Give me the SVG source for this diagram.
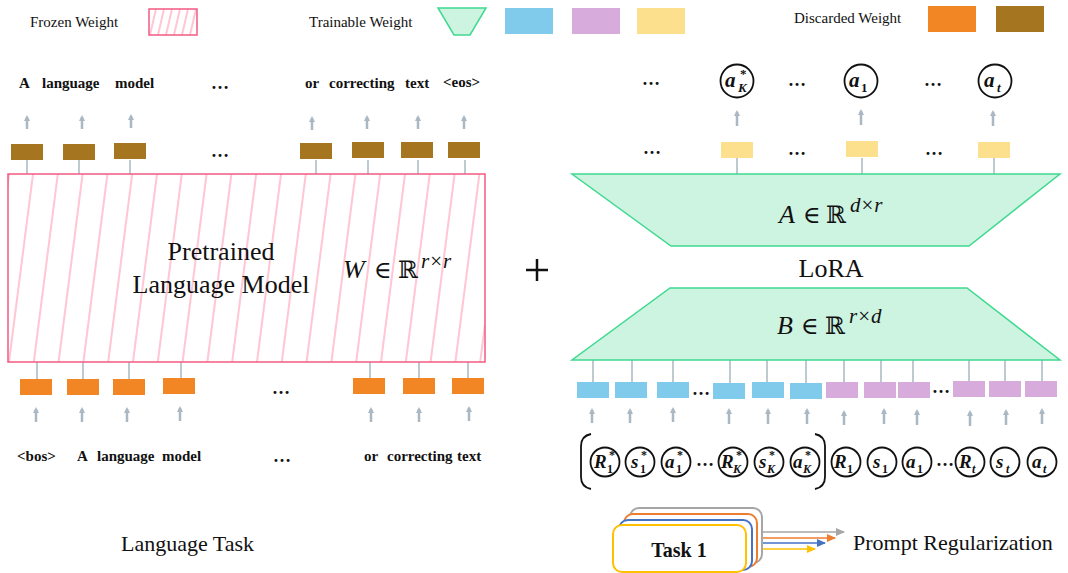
<svg xmlns="http://www.w3.org/2000/svg" width="1068" height="573" viewBox="0 0 1068 573">
<style>
.lg{font-family:"Liberation Serif",serif;font-size:15px;fill:#111}
.tok{font-family:"Liberation Serif",serif;font-size:15px;font-weight:bold;fill:#111}
.big{font-family:"Liberation Serif",serif;font-size:26px;fill:#111}
.dots{font-family:"Liberation Serif",serif;font-size:18px;font-weight:bold;fill:#111}
.mi{font-family:"Liberation Serif","DejaVu Serif",serif;font-size:26px;font-style:italic;fill:#111}
.mr{font-family:"DejaVu Serif","Liberation Serif",serif;font-size:24px;fill:#111}
.ms{font-family:"Liberation Serif","DejaVu Serif",serif;font-size:21px;letter-spacing:1px;fill:#111}
.cm{font-family:"Liberation Serif",serif;font-weight:bold;font-style:italic;font-size:19px;fill:#111}
.cs{font-family:"Liberation Serif",serif;font-weight:bold;font-size:12px;fill:#111}
.csi{font-family:"Liberation Serif",serif;font-weight:bold;font-style:italic;font-size:12px;fill:#111}
.tm{font-family:"Liberation Serif",serif;font-weight:bold;font-style:italic;font-size:21px;fill:#111}
.ts{font-family:"Liberation Serif",serif;font-weight:bold;font-size:13px;fill:#111}
.tsi{font-family:"Liberation Serif",serif;font-weight:bold;font-style:italic;font-size:13px;fill:#111}
.brown{fill:#a6751f}
.orange{fill:#f28524}
.blue{fill:#80cbec}
.purple{fill:#d7abdb}
.yellow{fill:#fde08d}
.trap{fill:#cdf3e1;stroke:#3fd98f;stroke-width:1.5}
.circ{fill:#fff;stroke:#111;stroke-width:1.8}
.conn{stroke:#a9b8c2;stroke-width:1.5;fill:none}
.arr{stroke:#a9b8c2;stroke-width:2.5;fill:none;marker-end:url(#ah)}
.hatch{stroke:#ffc6d4;stroke-width:2}
.task{fill:#fff;stroke-width:2}
</style>
<defs>
<marker id="ah" markerUnits="userSpaceOnUse" markerWidth="8" markerHeight="8" refX="4" refY="4" orient="auto"><path d="M0,1 L6,4 L0,7 z" fill="#a9b8c2"/></marker>
<marker id="ahg" markerUnits="userSpaceOnUse" markerWidth="10" markerHeight="8" refX="8" refY="4" orient="auto"><path d="M0,0 L9,4 L0,8 z" fill="#a6a6a6"/></marker>
<marker id="aho" markerUnits="userSpaceOnUse" markerWidth="10" markerHeight="8" refX="8" refY="4" orient="auto"><path d="M0,0 L9,4 L0,8 z" fill="#ed7d31"/></marker>
<marker id="ahb" markerUnits="userSpaceOnUse" markerWidth="10" markerHeight="8" refX="8" refY="4" orient="auto"><path d="M0,0 L9,4 L0,8 z" fill="#4472c4"/></marker>
<marker id="ahy" markerUnits="userSpaceOnUse" markerWidth="10" markerHeight="8" refX="8" refY="4" orient="auto"><path d="M0,0 L9,4 L0,8 z" fill="#ffc000"/></marker>
<clipPath id="clipBig"><rect x="8" y="174" width="477" height="188"/></clipPath>
<clipPath id="clipLeg"><rect x="149" y="9" width="48" height="26"/></clipPath>
</defs>

<!-- Legend -->
<g id="legend">
<text class="lg" x="30" y="27">Frozen Weight</text>
<g clip-path="url(#clipLeg)">
<line class="hatch" x1="150" y1="35" x2="156" y2="9"/>
<line class="hatch" x1="158" y1="35" x2="164" y2="9"/>
<line class="hatch" x1="166" y1="35" x2="172" y2="9"/>
<line class="hatch" x1="174" y1="35" x2="180" y2="9"/>
<line class="hatch" x1="182" y1="35" x2="188" y2="9"/>
<line class="hatch" x1="190" y1="35" x2="196" y2="9"/>
</g>
<rect x="149" y="9" width="48" height="26" fill="none" stroke="#f45a82" stroke-width="1.5"/>
<text class="lg" x="309" y="27">Trainable Weight</text>
<polygon class="trap" points="438,8 486,8 470,35 454,35"/>
<rect class="blue" x="505" y="8" width="48" height="26"/>
<rect class="purple" x="572" y="8" width="48" height="26"/>
<rect class="yellow" x="637" y="8" width="48" height="26"/>
<text class="lg" x="794" y="23">Discarded Weight</text>
<rect class="orange" x="928" y="6" width="48" height="26"/>
<rect class="brown" x="996" y="6" width="48" height="26"/>
</g>

<!-- Connectors -->
<g id="connectors">
<line class="conn" x1="27" y1="160" x2="27" y2="174"/>
<line class="conn" x1="79" y1="160" x2="79" y2="174"/>
<line class="conn" x1="130" y1="160" x2="130" y2="174"/>
<line class="conn" x1="316" y1="160" x2="316" y2="174"/>
<line class="conn" x1="368" y1="160" x2="368" y2="174"/>
<line class="conn" x1="418" y1="160" x2="418" y2="174"/>
<line class="conn" x1="465" y1="160" x2="465" y2="174"/>
<line class="arr" x1="27" y1="129" x2="27" y2="117"/>
<line class="arr" x1="82" y1="129" x2="82" y2="117"/>
<line class="arr" x1="131" y1="128" x2="131" y2="116"/>
<line class="arr" x1="312" y1="130" x2="312" y2="118"/>
<line class="arr" x1="367" y1="129" x2="367" y2="117"/>
<line class="arr" x1="418" y1="129" x2="418" y2="117"/>
<line class="arr" x1="464" y1="129" x2="464" y2="117"/>
<line class="conn" x1="37" y1="362" x2="37" y2="379"/>
<line class="conn" x1="83" y1="362" x2="83" y2="379"/>
<line class="conn" x1="129" y1="362" x2="129" y2="379"/>
<line class="conn" x1="181" y1="362" x2="181" y2="378"/>
<line class="conn" x1="370" y1="362" x2="370" y2="378"/>
<line class="conn" x1="419" y1="362" x2="419" y2="378"/>
<line class="conn" x1="468" y1="362" x2="468" y2="378"/>
<line class="arr" x1="36" y1="422" x2="36" y2="409"/>
<line class="arr" x1="82" y1="422" x2="82" y2="409"/>
<line class="arr" x1="127" y1="422" x2="127" y2="409"/>
<line class="arr" x1="180" y1="421" x2="180" y2="408"/>
<line class="arr" x1="371" y1="422" x2="371" y2="409"/>
<line class="arr" x1="419" y1="422" x2="419" y2="409"/>
<line class="arr" x1="469" y1="421" x2="469" y2="408"/>
<line class="conn" x1="737" y1="158" x2="737" y2="174"/>
<line class="conn" x1="862" y1="158" x2="862" y2="174"/>
<line class="conn" x1="994" y1="158" x2="994" y2="174"/>
<line class="arr" x1="737" y1="126" x2="737" y2="112"/>
<line class="arr" x1="861" y1="125" x2="861" y2="111"/>
<line class="arr" x1="993" y1="126" x2="993" y2="112"/>
<line class="conn" x1="593" y1="360" x2="593" y2="382"/>
<line class="conn" x1="632" y1="360" x2="632" y2="382"/>
<line class="conn" x1="673" y1="360" x2="673" y2="382"/>
<line class="conn" x1="730" y1="360" x2="730" y2="383"/>
<line class="conn" x1="767" y1="360" x2="767" y2="382"/>
<line class="conn" x1="806" y1="360" x2="806" y2="383"/>
<line class="conn" x1="844" y1="360" x2="844" y2="382"/>
<line class="conn" x1="881" y1="360" x2="881" y2="382"/>
<line class="conn" x1="913" y1="360" x2="913" y2="382"/>
<line class="conn" x1="969" y1="360" x2="969" y2="381"/>
<line class="conn" x1="1005" y1="360" x2="1005" y2="381"/>
<line class="conn" x1="1042" y1="360" x2="1042" y2="381"/>
<line class="arr" x1="592" y1="423" x2="592" y2="410"/>
<line class="arr" x1="630" y1="423" x2="630" y2="410"/>
<line class="arr" x1="673" y1="422" x2="673" y2="409"/>
<line class="arr" x1="729" y1="424" x2="729" y2="410"/>
<line class="arr" x1="768" y1="424" x2="768" y2="410"/>
<line class="arr" x1="807" y1="424" x2="807" y2="410"/>
<line class="arr" x1="844" y1="425" x2="844" y2="412"/>
<line class="arr" x1="884" y1="424" x2="884" y2="410"/>
<line class="arr" x1="917" y1="425" x2="917" y2="411"/>
<line class="arr" x1="970" y1="426" x2="970" y2="412"/>
<line class="arr" x1="1006" y1="425" x2="1006" y2="411"/>
<line class="arr" x1="1042" y1="424" x2="1042" y2="410"/>
<line x1="762" y1="532" x2="844" y2="532" stroke="#a6a6a6" stroke-width="1.3" marker-end="url(#ahg)"/>
<line x1="757" y1="538" x2="835" y2="538" stroke="#ed7d31" stroke-width="1.3" marker-end="url(#aho)"/>
<line x1="752" y1="543" x2="825" y2="543" stroke="#4472c4" stroke-width="1.3" marker-end="url(#ahb)"/>
<line x1="746" y1="549" x2="815" y2="549" stroke="#ffc000" stroke-width="1.3" marker-end="url(#ahy)"/>
</g>

<g id="out-tokens">
<text class="tok" x="19" y="88">A</text>
<text class="tok" x="42" y="88">language</text>
<text class="tok" x="115" y="88">model</text>
<text class="dots" x="211" y="89">…</text>
<text class="tok" x="305" y="88">or</text>
<text class="tok" x="329" y="88">correcting</text>
<text class="tok" x="405" y="88">text</text>
<text class="tok" x="443" y="87">&lt;eos&gt;</text>
</g>
<g id="discarded-top">
<rect class="brown" x="11" y="144" width="32" height="16"/>
<rect class="brown" x="63" y="144" width="32" height="16"/>
<rect class="brown" x="114" y="143" width="32" height="16"/>
<text class="dots" x="211" y="157">…</text>
<rect class="brown" x="300" y="143" width="32" height="16"/>
<rect class="brown" x="352" y="142" width="32" height="16"/>
<rect class="brown" x="401" y="142" width="32" height="16"/>
<rect class="brown" x="448" y="142" width="32" height="16"/>
</g>

<g id="pretrained">
<g clip-path="url(#clipBig)">
<line class="hatch" x1="-15" y1="362" x2="9" y2="174"/>
<line class="hatch" x1="9" y1="362" x2="33" y2="174"/>
<line class="hatch" x1="33.8" y1="362" x2="57.8" y2="174"/>
<line class="hatch" x1="58.6" y1="362" x2="82.6" y2="174"/>
<line class="hatch" x1="83.4" y1="362" x2="107.4" y2="174"/>
<line class="hatch" x1="108.2" y1="362" x2="132.2" y2="174"/>
<line class="hatch" x1="133" y1="362" x2="157" y2="174"/>
<line class="hatch" x1="157.8" y1="362" x2="181.8" y2="174"/>
<line class="hatch" x1="182.6" y1="362" x2="206.6" y2="174"/>
<line class="hatch" x1="207.4" y1="362" x2="231.4" y2="174"/>
<line class="hatch" x1="232.2" y1="362" x2="256.2" y2="174"/>
<line class="hatch" x1="257" y1="362" x2="281" y2="174"/>
<line class="hatch" x1="281.8" y1="362" x2="305.8" y2="174"/>
<line class="hatch" x1="306.6" y1="362" x2="330.6" y2="174"/>
<line class="hatch" x1="331.4" y1="362" x2="355.4" y2="174"/>
<line class="hatch" x1="356.2" y1="362" x2="380.2" y2="174"/>
<line class="hatch" x1="381" y1="362" x2="405" y2="174"/>
<line class="hatch" x1="405.8" y1="362" x2="429.8" y2="174"/>
<line class="hatch" x1="430.6" y1="362" x2="454.6" y2="174"/>
<line class="hatch" x1="455.4" y1="362" x2="479.4" y2="174"/>
<line class="hatch" x1="480.2" y1="362" x2="504.2" y2="174"/>
</g>
<rect x="8" y="174" width="477" height="188" fill="none" stroke="#f45a82" stroke-width="1.5"/>
<text class="big" x="221" y="260" text-anchor="middle">Pretrained</text>
<text class="big" x="221" y="293" text-anchor="middle">Language Model</text>
<text class="mi" x="343" y="278">W</text>
<text class="mr" x="374" y="278">∈</text>
<text class="mr" x="398" y="278">ℝ</text>
<text class="ms" x="421" y="268"><tspan font-style="italic">r</tspan>×<tspan font-style="italic">r</tspan></text>
</g>

<g id="discarded-bottom">
<rect class="orange" x="20" y="379" width="32" height="16"/>
<rect class="orange" x="67" y="379" width="32" height="16"/>
<rect class="orange" x="113" y="379" width="32" height="16"/>
<rect class="orange" x="163" y="378" width="32" height="16"/>
<text class="dots" x="272" y="394">…</text>
<rect class="orange" x="353" y="378" width="32" height="16"/>
<rect class="orange" x="403" y="378" width="32" height="16"/>
<rect class="orange" x="452" y="378" width="32" height="16"/>
</g>
<g id="in-tokens">
<text class="tok" x="17" y="461">&lt;bos&gt;</text>
<text class="tok" x="77" y="461">A</text>
<text class="tok" x="97" y="461">language</text>
<text class="tok" x="162" y="461">model</text>
<text class="dots" x="273" y="462">…</text>
<text class="tok" x="364" y="461">or</text>
<text class="tok" x="387" y="461">correcting</text>
<text class="tok" x="457" y="461">text</text>
</g>
<g id="language-task">
<text x="121" y="551" style="font-family:'Liberation Serif',serif;font-size:22px;fill:#111">Language Task</text>
</g>

<g id="plus">
<line x1="526" y1="270" x2="548" y2="270" stroke="#111" stroke-width="2.5"/>
<line x1="537" y1="259" x2="537" y2="281" stroke="#111" stroke-width="2.5"/>
</g>

<g id="out-actions">
<text class="dots" x="642" y="85">…</text>
<circle class="circ" cx="737" cy="81" r="16.5"/>
<text class="tm" x="725" y="87">a</text><text class="ts" x="740" y="78">*</text><text class="tsi" x="738" y="92">K</text>
<text class="dots" x="788" y="86">…</text>
<circle class="circ" cx="861" cy="81" r="16.5"/>
<text class="tm" x="849" y="87">a</text><text class="ts" x="861" y="92">1</text>
<text class="dots" x="924" y="86">…</text>
<circle class="circ" cx="995" cy="81" r="16.5"/>
<text class="tm" x="984" y="87">a</text><text class="tsi" x="997" y="92">t</text>
</g>
<g id="lora-out">
<text class="dots" x="643" y="154">…</text>
<rect class="yellow" x="721" y="142" width="32" height="16"/>
<text class="dots" x="788" y="155">…</text>
<rect class="yellow" x="846" y="141" width="32" height="16"/>
<text class="dots" x="925" y="155">…</text>
<rect class="yellow" x="978" y="142" width="32" height="16"/>
</g>

<g id="lora-A">
<polygon class="trap" points="572,174 1060,174 969,246 671,246"/>
<text class="mi" x="779" y="223">A</text>
<text class="mr" x="803" y="223">∈</text>
<text class="mr" x="826" y="223">ℝ</text>
<text class="ms" x="850" y="212"><tspan font-style="italic">d</tspan>×<tspan font-style="italic">r</tspan></text>
</g>
<g id="lora-label">
<text class="big" x="831" y="277" text-anchor="middle">LoRA</text>
</g>
<g id="lora-B">
<polygon class="trap" points="670,288 967,288 1060,360 572,360"/>
<text class="mi" x="777" y="334">B</text>
<text class="mr" x="801" y="334">∈</text>
<text class="mr" x="825" y="334">ℝ</text>
<text class="ms" x="849" y="323"><tspan font-style="italic">r</tspan>×<tspan font-style="italic">d</tspan></text>
</g>

<g id="prompt-embeds">
<rect class="blue" x="577" y="382" width="32" height="16"/>
<rect class="blue" x="615" y="382" width="32" height="16"/>
<rect class="blue" x="657" y="382" width="32" height="16"/>
<text class="dots" x="692" y="395">…</text>
<rect class="blue" x="713" y="383" width="32" height="16"/>
<rect class="blue" x="752" y="382" width="32" height="16"/>
<rect class="blue" x="790" y="383" width="32" height="16"/>
</g>
<g id="task-embeds">
<rect class="purple" x="826" y="382" width="32" height="16"/>
<rect class="purple" x="864" y="382" width="32" height="16"/>
<rect class="purple" x="898" y="382" width="32" height="16"/>
<text class="dots" x="932" y="393">…</text>
<rect class="purple" x="953" y="381" width="32" height="16"/>
<rect class="purple" x="989" y="381" width="32" height="16"/>
<rect class="purple" x="1025" y="381" width="32" height="16"/>
</g>

<g id="prompt-trajectory">
<path d="M591,434 Q581,436 581,446 L581,477 Q581,487 591,489" fill="none" stroke="#111" stroke-width="1.8"/>
<circle class="circ" cx="605" cy="462" r="14.5"/>
<text class="cm" x="594" y="468">R</text><text class="cs" x="609" y="459">*</text><text class="cs" x="607" y="473">1</text>
<circle class="circ" cx="640" cy="462" r="14.5"/>
<text class="cm" x="631" y="468">s</text><text class="cs" x="641" y="459">*</text><text class="cs" x="640" y="473">1</text>
<circle class="circ" cx="676" cy="462" r="14.5"/>
<text class="cm" x="665" y="468">a</text><text class="cs" x="677" y="459">*</text><text class="cs" x="676" y="473">1</text>
<text class="dots" x="696" y="466">…</text>
<circle class="circ" cx="733" cy="462" r="14.5"/>
<text class="cm" x="721" y="468">R</text><text class="cs" x="736" y="459">*</text><text class="csi" x="733" y="473">K</text>
<circle class="circ" cx="769" cy="462" r="14.5"/>
<text class="cm" x="759" y="468">s</text><text class="cs" x="769" y="459">*</text><text class="csi" x="767" y="473">K</text>
<circle class="circ" cx="805" cy="462" r="14.5"/>
<text class="cm" x="793" y="468">a</text><text class="cs" x="805" y="459">*</text><text class="csi" x="803" y="473">K</text>
<path d="M815,434 Q825,436 825,446 L825,477 Q825,487 815,489" fill="none" stroke="#111" stroke-width="1.8"/>
</g>
<g id="task-trajectory">
<circle class="circ" cx="846" cy="462" r="14.5"/>
<text class="cm" x="834" y="468">R</text><text class="cs" x="847" y="473">1</text>
<circle class="circ" cx="882" cy="462" r="14.5"/>
<text class="cm" x="873" y="468">s</text><text class="cs" x="882" y="473">1</text>
<circle class="circ" cx="917" cy="462" r="14.5"/>
<text class="cm" x="906" y="468">a</text><text class="cs" x="917" y="473">1</text>
<text class="dots" x="936" y="466">…</text>
<circle class="circ" cx="970" cy="462" r="14.5"/>
<text class="cm" x="959" y="468">R</text><text class="csi" x="972" y="473">t</text>
<circle class="circ" cx="1005" cy="462" r="14.5"/>
<text class="cm" x="996" y="468">s</text><text class="csi" x="1006" y="473">t</text>
<circle class="circ" cx="1042" cy="462" r="14.5"/>
<text class="cm" x="1032" y="468">a</text><text class="csi" x="1043" y="473">t</text>
</g>

<g id="task-stack">
<rect class="task" x="630" y="508" width="132" height="55" rx="9" stroke="#a6a6a6"/>
<rect class="task" x="624" y="514" width="133" height="53" rx="9" stroke="#ed7d31"/>
<rect class="task" x="619" y="520" width="133" height="50" rx="9" stroke="#4472c4"/>
<rect class="task" x="613" y="525" width="133" height="47" rx="9" stroke="#ffc000"/>
<text x="679" y="557" text-anchor="middle" style="font-family:'Liberation Serif',serif;font-size:20px;font-weight:bold;fill:#111">Task 1</text>
</g>
<g id="prompt-reg">
<text x="853" y="550" style="font-family:'Liberation Serif',serif;font-size:22px;fill:#111">Prompt Regularization</text>
</g>
</svg>
